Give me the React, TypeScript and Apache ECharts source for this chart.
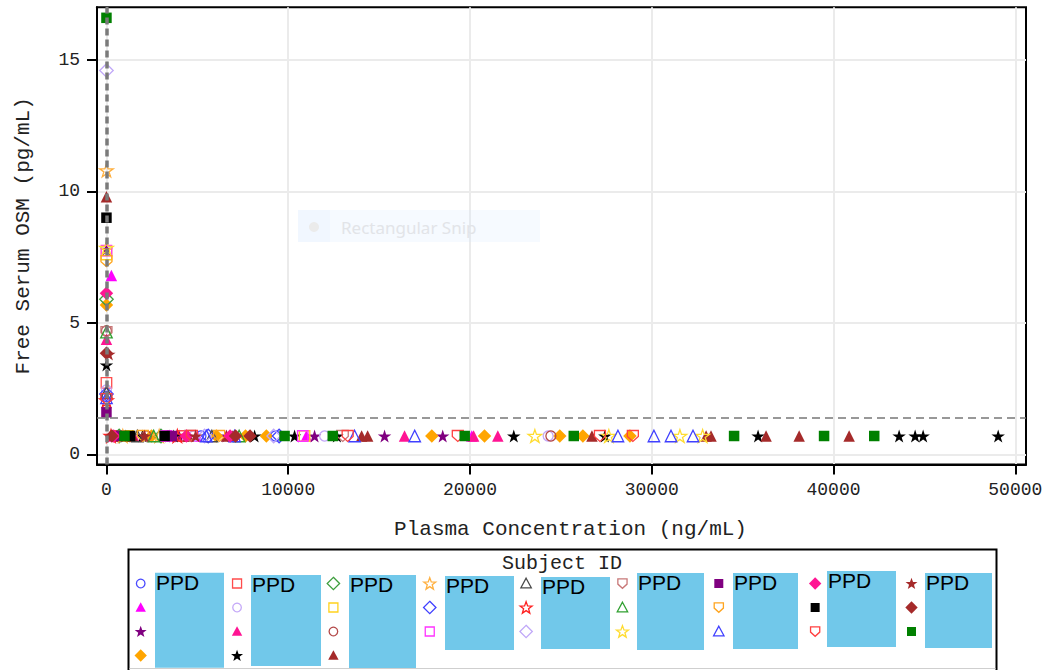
import React, { useEffect, useRef } from "react";
import * as echarts from "echarts";

const STAR = "path://M50,0L61.2,34.5L97.6,34.5L68.2,55.9L79.4,90.5L50,69.1L20.6,90.5L31.8,55.9L2.4,34.5L38.8,34.5Z";
const SHIELD = "path://M0,0L100,0L100,55L50,100L0,55Z";

// ---- data ----
const subjectNames = Array.from({ length: 30 }, (_, i) => "PPD-" + String(i + 1).padStart(2, "0"));
const subjectShapes = [
  "circle", "triangle", "star", "diamond", "rect", "circle", "triangle", "star", "diamond", "rect",
  "circle", "triangle", "star", "diamond", "rect", "triangle", "star", "diamond", "shield", "triangle",
  "star", "rect", "shield", "triangle", "diamond", "rect", "shield", "star", "diamond", "rect",
];
const subjectColors = [
  "#4B4BFF", "#FF00FF", "#800080", "#FFA500", "#FF4C4C", "#C4A8F8", "#FF1493", "#000000", "#3E9E3E", "#FFD21E",
  "#B44A4A", "#A52A2A", "#FFB040", "#4040FF", "#FF33FF", "#4A4A4A", "#FF2020", "#C0A8F8", "#C87878", "#30A030",
  "#FFDC30", "#800080", "#FFA520", "#4040FF", "#FF1493", "#000000", "#FF4040", "#A52A2A", "#A52A2A", "#008000",
];
const subjectFilled = [
  false, true, true, true, false, false, true, true, false, false,
  false, true, false, false, false, false, false, false, false, false,
  false, true, false, false, true, true, false, true, true, true,
];
// predose sample: [plasma concentration, free serum OSM]
const predosePoints = [
  [0, 2.2], [270, 6.8], [0, 7.8], [0, 5.68], [0, 2.72], [0, 2.45], [0, 4.38], [0, 3.4], [0, 5.9], [0, 7.6],
  [0, 4.7], [0, 9.8], [0, 10.8], [0, 2.3], [0, 7.75], [0, 2.35], [0, 2.05], [0, 14.6], [0, 4.65], [0, 4.65],
  [0, 7.85], [0, 1.6], [0, 7.35], [0, 2.15], [0, 6.13], [0, 9.0], [0, 2.1], [130, 3.81], [0, 3.85], [0, 16.6],
];
// post-dose samples below quantification, OSM reported at 0.7
const blqOsm = 0.7;
const blqConc = [
  [500, 5200, 9300],
  [300, 5000, 11000, 20100],
  [4000, 6600, 11450, 15300, 18500],
  [2480, 6050, 7650, 8800, 17900, 20800, 24940, 26210, 28800],
  [600, 4200],
  [4800, 12000, 24300],
  [1500, 16400, 20200, 21530],
  [1050, 1980, 3470, 3700, 8150, 10350, 12680, 22410, 27420, 35850, 43610, 44490, 44930, 49060],
  [700, 3000],
  [1200, 10900],
  [2200, 24450],
  [550, 1430, 4500, 6600, 6940, 14040, 14370, 26710, 32990, 33260, 36290, 38110, 40860],
  [900, 2900],
  [5600, 9500],
  [3300, 10800],
  [1700, 5800],
  [250, 3900],
  [5400, 9200],
  [4600, 13000],
  [2600, 7300],
  [23570, 27640, 31550, 32800],
  [800, 3600],
  [2000, 6200],
  [5500, 7050, 13650, 16960, 28140, 30120, 31060, 32270],
  [400, 4400, 6800],
  [1300, 3200],
  [4700, 13270, 19330, 27150, 28960],
  [2100, 4900],
  [300, 7100, 7900],
  [990, 9800, 12450, 19710, 25710, 34530, 39480, 42240],
];
const xTicks = [0, 10000, 20000, 30000, 40000, 50000];
const yTicks = [0, 5, 10, 15];
const refConc = 0;
const refOsm = 1.4;
const legendColumns = [
  [0, 1, 2, 3], [4, 5, 6, 7], [8, 9, 10, 11], [12, 13, 14], [15, 16, 17],
  [18, 19, 20], [21, 22, 23], [24, 25, 26], [27, 28, 29],
];
const redactBoxes = [
  [155, 572.7, 69, 95], [251, 575, 70, 91], [349, 575, 67, 93], [445, 576, 69, 74], [541, 577, 69, 72],
  [637, 573, 67, 77], [733, 573, 65, 76], [827, 571, 69, 76], [925, 573, 67, 75],
];

const MONO = "'Liberation Mono', 'DejaVu Sans Mono', monospace";

function symbolOf(s: string) {
  if (s === "star") return STAR;
  if (s === "shield") return SHIELD;
  return s;
}
function sizeOf(s: string) {
  switch (s) {
    case "circle": return 10;
    case "rect": return 10.5;
    case "triangle": return 11.5;
    case "diamond": return 13.5;
    case "star": return 13.5;
    default: return 11;
  }
}

function starPoints(cx: number, cy: number, ro: number, ri: number) {
  const pts: number[][] = [];
  for (let k = 0; k < 10; k++) {
    const a = -Math.PI / 2 + (k * Math.PI) / 5;
    const r = k % 2 === 0 ? ro : ri;
    pts.push([cx + r * Math.cos(a), cy + r * Math.sin(a)]);
  }
  return pts;
}

function legendGlyph(shape: string, cx: number, cy: number, color: string, filled: boolean): any {
  const style = filled
    ? { fill: color, stroke: null, lineWidth: 0 }
    : { fill: "#fff", stroke: color, lineWidth: 1.3 };
  const z = 12;
  switch (shape) {
    case "circle":
      return { type: "circle", shape: { cx, cy, r: 4.3 }, style, z };
    case "rect":
      return { type: "rect", shape: { x: cx - 4.5, y: cy - 4.5, width: 9, height: 9 }, style, z };
    case "triangle":
      return { type: "polygon", shape: { points: [[cx, cy - 5.3], [cx + 5.2, cy + 4.3], [cx - 5.2, cy + 4.3]] }, style, z };
    case "diamond":
      return { type: "polygon", shape: { points: [[cx, cy - 6.2], [cx + 6.2, cy], [cx, cy + 6.2], [cx - 6.2, cy]] }, style, z };
    case "star":
      return { type: "polygon", shape: { points: starPoints(cx, cy + 0.5, 6.3, 2.6) }, style, z };
    default:
      return {
        type: "polygon",
        shape: { points: [[cx - 4.6, cy - 4.6], [cx + 4.6, cy - 4.6], [cx + 4.6, cy + 0.6], [cx, cy + 4.8], [cx - 4.6, cy + 0.6]] },
        style,
        z,
      };
  }
}

export default function App() {
  const ref = useRef<HTMLDivElement>(null);
  useEffect(() => {
    if (!ref.current) return;
    const chart = echarts.init(ref.current, null, { renderer: "svg" });

    const series: any[] = subjectNames.map((name, i) => {
      const data = [predosePoints[i], ...blqConc[i].map((c) => [c, blqOsm])];
      const filled = subjectFilled[i];
      const color = subjectColors[i];
      return {
        type: "scatter",
        name,
        symbol: symbolOf(subjectShapes[i]),
        symbolSize: sizeOf(subjectShapes[i]),
        symbolKeepAspect: true,
        data,
        itemStyle: filled
          ? { color, borderWidth: 0, opacity: 1 }
          : { color: "rgba(255,255,255,0)", borderColor: color, borderWidth: 1.3, opacity: 1 },
        emphasis: { disabled: true },
      };
    });
    series.push({
      type: "scatter",
      name: "ref",
      data: [],
      silent: true,
      z: 5,
      markLine: {
        silent: true,
        symbol: ["none", "none"],
        label: { show: false },
        animation: false,
        data: [
          { xAxis: refConc, lineStyle: { type: [7, 4], width: 3.5, color: "#7a7a7a", opacity: 1 } },
          { yAxis: refOsm, lineStyle: { type: [8, 5], width: 1.6, color: "#777777", opacity: 1 } },
        ],
      },
    });

    const graphics: any[] = [
      {
        type: "polyline",
        shape: { points: [[128.5, 671], [128.5, 549.5], [996.5, 549.5], [996.5, 671]] },
        style: { fill: null, stroke: "#000", lineWidth: 2 },
        z: 10,
      },
      {
        type: "line",
        shape: { x1: 129.5, y1: 668.5, x2: 995.5, y2: 668.5 },
        style: { stroke: "#cfcfcf", lineWidth: 1 },
        z: 10,
      },
      {
        type: "text",
        x: 562,
        y: 563,
        style: { text: "Subject ID", font: "20px " + MONO, fill: "#222", textAlign: "center", textVerticalAlign: "middle" },
        z: 10,
      },
      {
        type: "rect",
        shape: { x: 298, y: 210, width: 242, height: 32 },
        style: { fill: "rgba(215,232,255,0.22)" },
        z: 20,
      },
      {
        type: "rect",
        shape: { x: 298, y: 210, width: 32, height: 32 },
        style: { fill: "rgba(215,232,255,0.15)" },
        z: 20,
      },
      {
        type: "circle",
        shape: { cx: 314, cy: 227, r: 5 },
        style: { fill: "#ebebeb" },
        z: 21,
      },
      {
        type: "text",
        x: 341,
        y: 227,
        style: { text: "Rectangular Snip", font: "17px 'Noto Sans', 'Open Sans', sans-serif", fill: "#e2e4e8", textVerticalAlign: "middle" },
        z: 21,
      },
    ];
    const rowsY = [583.5, 607.5, 631.5, 655.5];
    legendColumns.forEach((col, ci) => {
      const cx = 140.7 + 96.35 * ci;
      col.forEach((k, ri) => {
        graphics.push(legendGlyph(subjectShapes[k], cx, rowsY[ri], subjectColors[k], subjectFilled[k]));
      });
    });
    redactBoxes.forEach(([x, y, w, h]) => {
      graphics.push({
        type: "rect",
        shape: { x, y, width: w, height: h },
        style: { fill: "#71C8EA" },
        z: 30,
      });
      graphics.push({
        type: "text",
        x: x + 1,
        y: y - 1,
        style: { text: "PPD", font: "21px 'Liberation Sans', Arial, sans-serif", fill: "#000", textVerticalAlign: "top" },
        z: 31,
      });
    });

    chart.setOption({
      animation: false,
      grid: {
        left: 97,
        right: 23,
        top: 7.3,
        bottom: 205.6,
        show: true,
        borderColor: "#000",
        borderWidth: 2,
        backgroundColor: "transparent",
      },
      xAxis: {
        type: "value",
        min: -520,
        max: 50590,
        axisLine: { show: true, onZero: false, lineStyle: { color: "#000", width: 2 } },
        axisTick: { show: true, length: 10, lineStyle: { color: "#000", width: 2 }, customValues: xTicks },
        axisLabel: { customValues: xTicks, fontSize: 18, fontFamily: MONO, color: "#222", margin: 17, formatter: (v: number) => String(v) },
        splitLine: { show: true, lineStyle: { color: "#ebebeb", width: 2 } },
        name: "Plasma Concentration (ng/mL)",
        nameLocation: "middle",
        nameGap: 55,
        nameTextStyle: { fontSize: 21, fontFamily: MONO, color: "#222", padding: [0, 0, 0, 18] },
      },
      yAxis: {
        type: "value",
        min: -0.38,
        max: 17.0,
        axisLine: { show: true, onZero: false, lineStyle: { color: "#000", width: 2 } },
        axisTick: { show: true, length: 10, lineStyle: { color: "#000", width: 2 }, customValues: yTicks },
        axisLabel: { customValues: yTicks, fontSize: 18, fontFamily: MONO, color: "#222", margin: 17, formatter: (v: number) => String(v) },
        splitLine: { show: true, lineStyle: { color: "#ebebeb", width: 2 } },
        name: "Free Serum OSM (pg/mL)",
        nameLocation: "middle",
        nameGap: 63,
        nameTextStyle: { fontSize: 21, fontFamily: MONO, color: "#222" },
      },
      graphic: graphics,
      series,
    });
    return () => chart.dispose();
  }, []);
  return <div ref={ref} style={{ position: "absolute", left: 0, top: 0, width: 1049, height: 670 }} />;
}
